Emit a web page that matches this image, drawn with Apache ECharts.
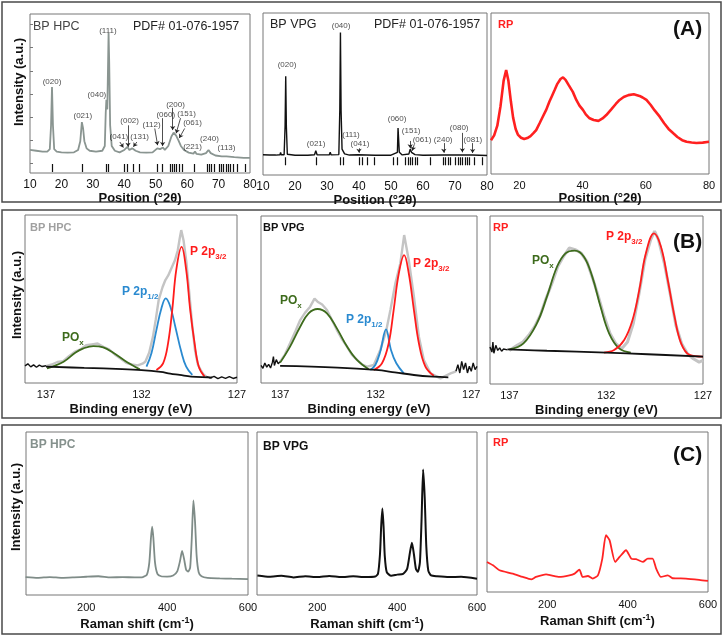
<!DOCTYPE html>
<html lang="en">
<head>
<meta charset="UTF-8">
<title>BP HPC / BP VPG / RP - XRD, XPS, Raman</title>
<style>
  html, body { margin: 0; padding: 0; background: #fff; }
  #main { width: 725px; height: 637px; }
</style>
</head>
<body>
<div id="main"></div>
<script src="https://cdn.jsdelivr.net/npm/echarts@6.0.0/dist/echarts.min.js"></script>
<script>
var FF = 'Liberation Sans, Arial, sans-serif';

// ---------- (A) XRD ----------
// reference pattern PDF# 01-076-1957 (2theta)
var pdfSticks = [17.0, 26.6, 34.2, 35.0, 40.0, 41.0, 42.7, 44.8, 50.6, 52.0, 54.5, 55.3, 55.9, 56.5,
  57.5, 58.3, 62.3, 66.3, 67.0, 67.8, 68.6, 70.2, 71.0, 71.6, 72.3, 73.1, 73.8, 74.6, 75.9, 78.5];

var hpcXrd = [[10,14.5],[12,14],[14,13.5],[15.5,13.5],[16.3,15],[16.7,30],[17.0,54],[17.3,30],[17.7,15],
  [18.5,13.5],[20,13],[22,12.8],[24,13],[25.3,14.5],[26,20],[26.5,32],[26.9,28],[27.3,20],[28,15.5],
  [29,14],[31,13.5],[33,14],[33.8,17],[34.1,38],[34.3,46],[34.6,40],[34.85,70],[35.0,88],[35.2,70],
  [35.5,30],[36,17],[37,14],[38.5,13],[40,14.5],[40.4,15],[41,16.5],[41.6,14.5],[42.5,15.5],[43,16],
  [43.6,14],[45,13],[47,12.8],[49,13],[50.5,15.5],[50.9,16.5],[51.4,15],[52.3,16],[52.9,14.5],[54,17],
  [55,23],[55.7,25.4],[56.5,23.5],[57.2,20.7],[58,17],[59,14.5],[60.5,12.8],[62,12.2],[62.5,13.5],[63,12],
  [64.5,11.5],[66,12.5],[66.8,14.5],[67.5,12.5],[69,11],[71,10.5],[71.6,11.3],[72.5,10.5],[75,10],
  [78,9.5],[80,9.5]];
var hpcHkl = [['(020)',17.0,57.2],['(021)',26.8,35.8],['(040)',31.3,49.1],['(111)',34.8,89.3],
  ['(041)',38.3,22.6],['(002)',41.7,32.7],['(131)',44.9,22.6],['(112)',48.7,30.2],['(060)',53.2,36.5],
  ['(200)',56.3,42.8],['(151)',59.8,37.1],['(061)',61.7,31.4],['(221)',61.7,16.4],['(240)',67.1,21.4],
  ['(113)',72.5,15.7]];
var hpcArrows = [[38.6,19.5,39.7,16],[41.2,30,41.2,16.5],[44.0,19.5,42.9,16.5],[49.7,28,50.6,17.5],
  [52.2,34.5,52.2,17],[55.4,41,55.4,27],[57.9,34.5,56.5,25],[59.2,28,57.5,22]];

var vpgXrd = [[10,12.5],[12,12.3],[14,12.3],[15.3,12.5],[15.5,14],[15.7,12.5],[16.6,12.5],[16.9,30],
  [17.1,61],[17.3,30],[17.6,12.8],[20,12.2],[24,12.2],[26.1,12.5],[26.5,15],[26.9,12.5],[30.7,12.4],
  [31,14],[31.3,12.4],[33.7,12.6],[34.0,40],[34.2,88],[34.4,40],[34.7,16],[35.1,17],[35.5,13],[37,12.3],
  [39.7,12.5],[40,13.5],[40.3,12.5],[45,12.2],[50,12.2],[52.0,14],[52.2,29],[52.4,29],[52.6,14],
  [53.5,12.4],[55.6,13],[56,16],[56.4,14],[57,14],[57.5,12.6],[60,12.2],[66.3,12.3],[66.6,13],[67,12.3],
  [72.1,12.3],[72.4,13.5],[72.7,12.3],[75.3,12.3],[75.6,13],[75.9,12.2],[80,12]];
var vpgHkl = [['(020)',17.5,68],['(021)',26.6,19],['(040)',34.4,92],['(111)',37.5,24.7],['(041)',40.3,19],
  ['(060)',51.9,34.6],['(151)',56.3,27],['(061)',59.7,22],['(240)',66.3,22],['(080)',71.3,29],['(081)',75.6,22]];
var vpgArrows = [[40,16.5,40,13.8],[56,21,56,16.5],[57.3,19,56.6,15],[66.5,19.7,66.5,13.8],
  [72.3,26,72.3,14],[75.5,19.7,75.5,13.6]];

var rpXrd = [[11,21],[12,24],[13,30],[14,42],[15,58],[15.8,64.6],[16.5,58],[17.3,45],[18,35],[18.8,28],
  [19.5,24.5],[20.5,22.5],[21.5,21.7],[22.5,22.3],[23.5,23.5],[24.5,25.5],[25.3,27.3],[26.5,32],[27.5,36],
  [28.5,40],[29.5,45],[30.3,48.5],[31.1,52],[32,56],[33,59],[33.8,60],[34.6,58.5],[35.5,55.5],[36.9,51],
  [38,46],[39,42.5],[40.1,39.8],[41,37],[42.2,34.6],[43.5,33.5],[45,33],[46.3,34.5],[47.5,36.6],[49,40],
  [50.5,43.5],[51.7,46],[53,47.8],[54.5,49],[56.2,49.5],[58,48.5],[59,47.5],[60.2,46],[61.5,43],
  [62.8,39.5],[64.4,35.6],[65.8,31.5],[67.2,28],[68.7,25.3],[70,23],[71.5,21],[72.9,20],[74.5,19.6],
  [76,19.3],[78,19.5],[80,20]];

// ---------- (B) XPS P 2p (binding energy eV) ----------
var hpcXpsRaw = [[137,10],[136.7,11],[136.4,12.5],[136.1,13],[135.8,16],[135.5,18.5],[135.2,20],[134.9,22.5],
  [134.6,23],[134.3,23.5],[134,21.5],[133.7,20],[133.4,17],[133.1,14.5],[132.8,12],[132.5,11],[132.2,10.5],
  [131.95,11.5],[131.8,12.7],[131.6,18],[131.4,27.6],[131.25,38],[131.1,49.4],[130.9,57],[130.75,61.3],
  [130.6,64],[130.4,69.2],[130.25,73],[130.1,79],[130.0,86],[129.92,91],[129.8,85],[129.65,72],
  [129.5,53.6],[129.35,35],[129.2,19.6],[129.05,11],[128.9,7.7],[128.75,5],[128.6,3.8]];
var hpcXpsEdgeL = [[138.1,10.2],[137.95,11.4],[137.8,9.6],[137.65,10.8],[137.5,9.4],[137.35,10.6],
  [137.2,9.8],[137.0,10.3]];
var hpcXpsEdgeR = [[128.6,3.8],[128.4,3.0],[128.2,4.0],[128.0,2.6],[127.8,3.6],[127.6,2.8],[127.4,3.8],
  [127.2,2.7],[127.0,3.4]];
var hpcXpsBg = [[137,9.7],[135,9],[133,8.3],[132,7.7],[131,6.6],[130.5,5.6],[130,4.8],[129.4,3.8],
  [128.5,3.3],[128.3,3.2]];
var hpcXpsPox = [[136.95,8.7],[136.08,12.7],[135.47,18],[135.04,20.6],[134.52,22],[134.0,21.2],
  [133.48,18],[132.87,13.3],[132.09,8.1]];
var hpcXps12 = [[131.74,9.7],[131.48,17.7],[131.22,31.5],[130.96,44.4],[130.73,50.4],[130.49,45.4],
  [130.23,33.5],[129.92,18.7],[129.66,9.7],[129.34,4.8]];
var hpcXps32 = [[131.22,7.7],[130.87,11.7],[130.61,23.6],[130.39,43.5],[130.18,67.3],[129.9,81],
  [129.66,67.3],[129.45,43.5],[129.22,23.6],[129.0,9.7],[128.7,3.8]];

var vpgXpsRaw = [[137,12.8],[136.75,17],[136.48,23.8],[136.2,31],[135.95,37.7],[135.7,42],[135.43,45.7],
  [135.2,50.5],[135.04,48.7],[134.8,47],[134.55,43.7],[134.3,38],[134.03,31.7],[133.75,26],[133.5,21.8],
  [133.25,17],[132.98,13.8],[132.7,11],[132.45,9.8],[132.1,10.8],[131.76,19.8],[131.46,30.7],
  [131.23,43.7],[130.97,59.7],[130.71,71.7],[130.51,88.6],[130.27,73.7],[130.0,51.7],[129.74,27.7],
  [129.48,13.8],[129.13,5.8],[128.61,2.8],[128.08,5.8],[127.8,7]];
var vpgXpsEdgeL = [[138,10.5],[137.9,8.8],[137.8,12],[137.7,9.5],[137.6,11.2],[137.5,9],[137.4,12.5],
  [137.35,15.8],[137.3,10.5],[137.2,14],[137.1,11.5],[137,12.8]];
var vpgXpsEdgeR = [[127.8,7],[127.7,11],[127.6,6],[127.5,13],[127.4,8],[127.3,12],[127.2,6],[127.1,10],
  [127.0,7],[126.9,12],[126.8,8],[126.7,10]];
var vpgXpsBg = [[137,10.2],[134,9.2],[132,7.8],[131,6.4],[130,4.8],[129,3.8],[128.2,3.4]];
var vpgXpsPox = [[137,12.2],[136.48,21.8],[135.95,33.7],[135.51,41.7],[135.04,44.3],[134.55,41.7],
  [134.03,32.7],[133.5,21.8],[132.98,13.8],[132.37,8.2]];
var vpgXps12 = [[132.28,7.8],[132.02,10.8],[131.76,18.8],[131.46,32.1],[131.2,19.8],[130.92,11.8],
  [130.53,5.8]];
var vpgXps32 = [[132.1,7.8],[131.67,11.8],[131.32,23.8],[131.06,43.7],[130.79,65.7],[130.51,76.6],
  [130.27,65.7],[130.0,43.7],[129.74,23.8],[129.4,9.8],[128.96,4.4]];

var rpXpsRaw = [[137,20],[136.6,23],[136.3,25],[136,29],[135.7,34],[135.4,41],[135.1,51],[134.8,60],
  [134.5,70],[134.2,76],[133.9,81],[133.6,80],[133.3,78],[133,73],[132.7,63],[132.4,52],[132.1,40],
  [131.8,30],[131.5,24],[131.2,21],[130.9,25],[130.6,36],[130.3,54],[130,74],[129.7,86],[129.5,91],
  [129.3,86],[129,72],[128.7,54],[128.4,35],[128.1,24],[127.8,18],[127.5,15],[127.2,13],[127,14]];
var rpXpsEdgeL = [[138,22],[137.9,19],[137.85,25],[137.8,18.3],[137.7,23],[137.6,20],[137.5,21.5],
  [137.4,19.5],[137.3,20.8],[137.1,20.3]];
var rpXpsBg = [[137.1,20.6],[135.06,19.8],[132,18.7],[129.86,17.7],[127,16.3]];
var rpXpsPox = [[137,20.6],[136.27,24.2],[135.58,36.1],[135.06,52],[134.54,69.8],[134.1,77.8],
  [133.62,79.4],[133.15,75.8],[132.72,63.9],[132.29,46],[131.85,30.2],[131.33,21.2],[130.73,18.7]];
var rpXps32 = [[132.11,18.7],[131.59,20.2],[131.07,26.2],[130.64,38.1],[130.29,56],[129.95,77.8],
  [129.53,89.7],[129.17,81.7],[128.82,61.9],[128.47,40.1],[128.13,24.2],[127.69,17.3],[127,16.3]];

// ---------- (C) Raman (cm-1) ----------
var hpcRaman = [[50,11],[80,10.5],[110,11],[140,10.5],[170,10.8],[200,11.2],[230,11.5],[260,10.8],
  [290,11],[320,10.8],[340,11],[350,12.5],[356,20],[360,35],[363,42],[366,35],[370,20],[376,13],
  [385,11.5],[400,11.3],[415,12],[425,14.5],[432,21],[437,27],[442,22],[447,15.5],[452,14.3],[457,17],
  [461,35],[465,58],[469,45],[473,24],[478,14],[485,11.5],[500,10.5],[530,10.2],[560,10],[600,9.8]];
var vpgRaman = [[50,12],[80,11.2],[110,11.8],[140,10.8],[170,11.5],[200,11],[230,11.7],[260,11],
  [290,11.5],[320,11],[345,11.3],[352,13],[357,25],[360,42],[363,53],[366,42],[369,24],[374,14],
  [385,11.8],[400,12.5],[415,13],[425,16],[432,26],[437,32],[442,25],[447,16],[452,14.3],[457,20],
  [461,45],[465,77],[469,60],[473,30],[478,15],[485,12],[500,11.5],[530,11],[560,11.2],[600,10]];
var rpRaman = [[50,18.8],[65,16.7],[81,13.6],[114,11.5],[139,9.4],[160,7.9],[172,9.4],[197,11],
  [210,10.4],[230,9.4],[255,10.4],[268,11.5],[280,14],[288,9.4],[301,10],[313,8.4],[326,10.4],
  [337,20.9],[346,35.5],[355,32.4],[369,18.8],[380,21.9],[396,26.1],[409,20.9],[421,20.5],[438,18.8],
  [450,20.9],[462,20.9],[471,14.6],[483,9.4],[500,10.4],[512,8.6],[545,8.4],[578,7.6],[600,6.9]];

var xrdTicks = [10, 20, 30, 40, 50, 60, 70, 80];
var rpXrdTicks = [20, 40, 60, 80];
var beTicks = [127, 132, 137];
var ramanTicks = [200, 400, 600];

// ---------- layout ----------
var grids = [
  {left: 30, top: 14, width: 220, height: 159},
  {left: 263, top: 13, width: 224, height: 162},
  {left: 491, top: 13, width: 218, height: 161},
  {left: 25, top: 215, width: 212, height: 168},
  {left: 261, top: 216, width: 216, height: 167},
  {left: 490, top: 216, width: 213, height: 168},
  {left: 26, top: 432, width: 222, height: 163},
  {left: 257, top: 432, width: 220, height: 163},
  {left: 487, top: 432, width: 221, height: 160}
].map(function (g) {
  g.show = true; g.borderColor = '#777'; g.borderWidth = 1; g.backgroundColor = 'transparent';
  return g;
});

var nameStyle = {fontFamily: FF, fontWeight: 'bold', fontSize: 13, color: '#111'};
var ramanName = {
  fontFamily: FF, fontWeight: 'bold', fontSize: 13, color: '#111',
  rich: {
    m: {fontFamily: FF, fontWeight: 'bold', fontSize: 13, color: '#111', verticalAlign: 'bottom'},
    s: {fontFamily: FF, fontWeight: 'bold', fontSize: 9, color: '#111', verticalAlign: 'bottom', padding: [0, 0, 6, 0]}
  }
};

function xAx(g, min, max, ticks, name, gap, margin, fs, inverse, nstyle) {
  return {
    gridIndex: g, type: 'value', min: min, max: max, inverse: !!inverse,
    axisLine: {show: false}, axisTick: {show: false}, splitLine: {show: false},
    axisLabel: {customValues: ticks, margin: margin, fontSize: fs, color: '#111', fontFamily: FF,
      showMinLabel: true, showMaxLabel: true},
    name: name, nameLocation: 'middle', nameGap: gap, nameTextStyle: nstyle || nameStyle
  };
}
var xAxes = [
  xAx(0, 10, 80, xrdTicks, 'Position (°2θ)', 15, 6, 12),
  xAx(1, 10, 80, xrdTicks, 'Position (°2θ)', 15, 6, 12),
  xAx(2, 11, 80, rpXrdTicks, 'Position (°2θ)', 15, 6, 11),
  xAx(3, 127, 138.1, beTicks, 'Binding energy (eV)', 20, 6, 11, true),
  xAx(4, 126.7, 138, beTicks, 'Binding energy (eV)', 20, 6, 11, true),
  xAx(5, 127, 138, beTicks, 'Binding energy (eV)', 20, 6, 11, true),
  xAx(6, 51, 600, ramanTicks, '{m|Raman shift (cm}{s|-1}{m|)}', 21, 7, 11, false, ramanName),
  xAx(7, 49, 600, ramanTicks, '{m|Raman shift (cm}{s|-1}{m|)}', 21, 7, 11, false, ramanName),
  xAx(8, 50, 600, ramanTicks, '{m|Raman Shift (cm}{s|-1}{m|)}', 21, 7, 11, false, ramanName)
];
var yAxes = grids.map(function (g, i) {
  return {
    gridIndex: i, type: 'value', min: 0, max: 100,
    axisLine: {show: false}, axisLabel: {show: false}, splitLine: {show: false},
    axisTick: {show: i === 0, inside: true, length: 3, lineStyle: {color: '#777'},
      customValues: [6.3, 20.8, 35.3, 49.8, 64.3, 78.8, 93.3]}
  };
});

function line(g, data, color, width, z, smooth) {
  return {type: 'line', xAxisIndex: g, yAxisIndex: g, data: data, showSymbol: false, symbol: 'none',
    smooth: smooth || false, lineStyle: {color: color, width: width}, z: z || 2, silent: true};
}
function tags(g, list, color) {
  return {type: 'scatter', xAxisIndex: g, yAxisIndex: g, symbolSize: 0, silent: true, z: 6,
    data: list.map(function (t) { return {name: t[0], value: [t[1], t[2]]}; }),
    label: {show: true, position: 'inside', formatter: '{b}', fontSize: 8, color: color, fontFamily: FF}};
}
function arrows(g, list) {
  return {type: 'lines', coordinateSystem: 'cartesian2d', xAxisIndex: g, yAxisIndex: g, silent: true, z: 6,
    symbol: ['none', 'arrow'], symbolSize: 4, lineStyle: {color: '#222', width: 0.8, opacity: 1},
    data: list.map(function (a) { return {coords: [[a[0], a[1]], [a[2], a[3]]]}; })};
}
function sticks(g, lo, hi) {
  return {type: 'lines', coordinateSystem: 'cartesian2d', xAxisIndex: g, yAxisIndex: g, silent: true,
    symbol: 'none', lineStyle: {color: '#111', width: 1.2, opacity: 1},
    data: pdfSticks.map(function (x) { return {coords: [[x, lo], [x, hi]]}; })};
}

var GRAY = '#c4c4c4', GREEN = '#3d6b1c', BLUE = '#2a8ad0', RED = '#ff1c1c', BLK = '#111';
var series = [
  line(0, hpcXrd, '#8a9591', 1.8),
  sticks(0, 0.6, 5.7), tags(0, hpcHkl, '#1a1a1a'), arrows(0, hpcArrows),
  line(1, vpgXrd, '#111', 1.4),
  sticks(1, 6, 11), tags(1, vpgHkl, '#1a1a1a'), arrows(1, vpgArrows),
  line(2, rpXrd, '#ff2020', 2.6),

  line(3, hpcXpsRaw, GRAY, 2.4, 2), line(3, hpcXpsEdgeL, BLK, 1.4, 3), line(3, hpcXpsEdgeR, BLK, 1.4, 3),
  line(3, hpcXpsPox, GREEN, 1.8, 4, 0.4), line(3, hpcXps12, BLUE, 1.8, 4, 0.4),
  line(3, hpcXps32, RED, 1.8, 4, 0.4), line(3, hpcXpsBg, BLK, 1.8, 4, 0.4),

  line(4, vpgXpsRaw, GRAY, 2.4, 2), line(4, vpgXpsEdgeL, BLK, 1.4, 3), line(4, vpgXpsEdgeR, BLK, 1.4, 3),
  line(4, vpgXpsPox, GREEN, 1.8, 4, 0.4), line(4, vpgXps12, BLUE, 1.8, 4, 0.4),
  line(4, vpgXps32, RED, 1.8, 4, 0.4), line(4, vpgXpsBg, BLK, 1.8, 4, 0.4),

  line(5, rpXpsRaw, GRAY, 3, 2), line(5, rpXpsEdgeL, BLK, 1.4, 3),
  line(5, rpXpsPox, GREEN, 1.8, 4, 0.4), line(5, rpXps32, RED, 1.8, 4, 0.4),
  line(5, rpXpsBg, BLK, 1.8, 4, 0.4),

  line(6, hpcRaman, '#7f8c88', 1.8, 2, 0.2),
  line(7, vpgRaman, '#111', 2, 2, 0.2),
  line(8, rpRaman, '#ff2424', 1.8, 2, 0.2)
];

function txt(x, y, s, font, color) {
  return {type: 'text', x: x, y: y, silent: true, z: 10,
    style: {text: s, font: font, fill: color, align: 'left', verticalAlign: 'top'}};
}
function ylab(x, y) {
  return {type: 'text', x: x, y: y, rotation: Math.PI / 2, silent: true, z: 10,
    style: {text: 'Intensity (a.u.)', font: 'bold 13px ' + FF, fill: '#111', align: 'center', verticalAlign: 'middle'}};
}
function peak(x, y, main, sub, color) {
  return {type: 'text', x: x, y: y, silent: true, z: 10,
    style: {text: '{m|' + main + '}{s|' + sub + '}', align: 'left', verticalAlign: 'top',
      rich: {
        m: {font: 'bold 12px ' + FF, fill: color, verticalAlign: 'bottom', padding: [0, 0, 3, 0]},
        s: {font: 'bold 8px ' + FF, fill: color, verticalAlign: 'bottom'}
      }}};
}
function frame(y, h) {
  return {type: 'rect', shape: {x: 2, y: y, width: 719, height: h}, silent: true,
    style: {fill: 'none', stroke: '#4a4a4a', lineWidth: 1.5}};
}

var graphics = [
  frame(2, 200), frame(210, 208), frame(425, 209),
  ylab(19, 82), ylab(17, 295), ylab(16, 507),
  txt(33, 20, 'BP HPC', '12.5px ' + FF, '#444'),
  txt(133, 20, 'PDF# 01-076-1957', '12.5px ' + FF, '#222'),
  txt(270, 18, 'BP VPG', '12.5px ' + FF, '#222'),
  txt(374, 18, 'PDF# 01-076-1957', '12.5px ' + FF, '#222'),
  txt(498, 19, 'RP', 'bold 11px ' + FF, '#ff2020'),
  txt(673, 19, '(A)', 'bold 21px ' + FF, '#111'),

  txt(30, 222, 'BP HPC', 'bold 11px ' + FF, '#a0a0a0'),
  txt(263, 222, 'BP VPG', 'bold 11px ' + FF, '#111'),
  txt(493, 222, 'RP', 'bold 11px ' + FF, '#ff2020'),
  txt(673, 232, '(B)', 'bold 21px ' + FF, '#111'),
  peak(62, 332, 'PO', 'x', GREEN), peak(122, 286, 'P 2p', '1/2', BLUE), peak(190, 246, 'P 2p', '3/2', RED),
  peak(280, 295, 'PO', 'x', GREEN), peak(346, 314, 'P 2p', '1/2', BLUE), peak(413, 258, 'P 2p', '3/2', RED),
  peak(532, 255, 'PO', 'x', GREEN), peak(606, 231, 'P 2p', '3/2', RED),

  txt(30, 439, 'BP HPC', 'bold 12px ' + FF, '#85918d'),
  txt(263, 441, 'BP VPG', 'bold 12px ' + FF, '#111'),
  txt(493, 437, 'RP', 'bold 11px ' + FF, '#ff2020'),
  txt(673, 445, '(C)', 'bold 21px ' + FF, '#111')
];

var chart = echarts.init(document.getElementById('main'));
chart.setOption({
  animation: false,
  backgroundColor: '#fff',
  grid: grids,
  xAxis: xAxes,
  yAxis: yAxes,
  series: series,
  graphic: graphics
});
</script>
</body>
</html>
